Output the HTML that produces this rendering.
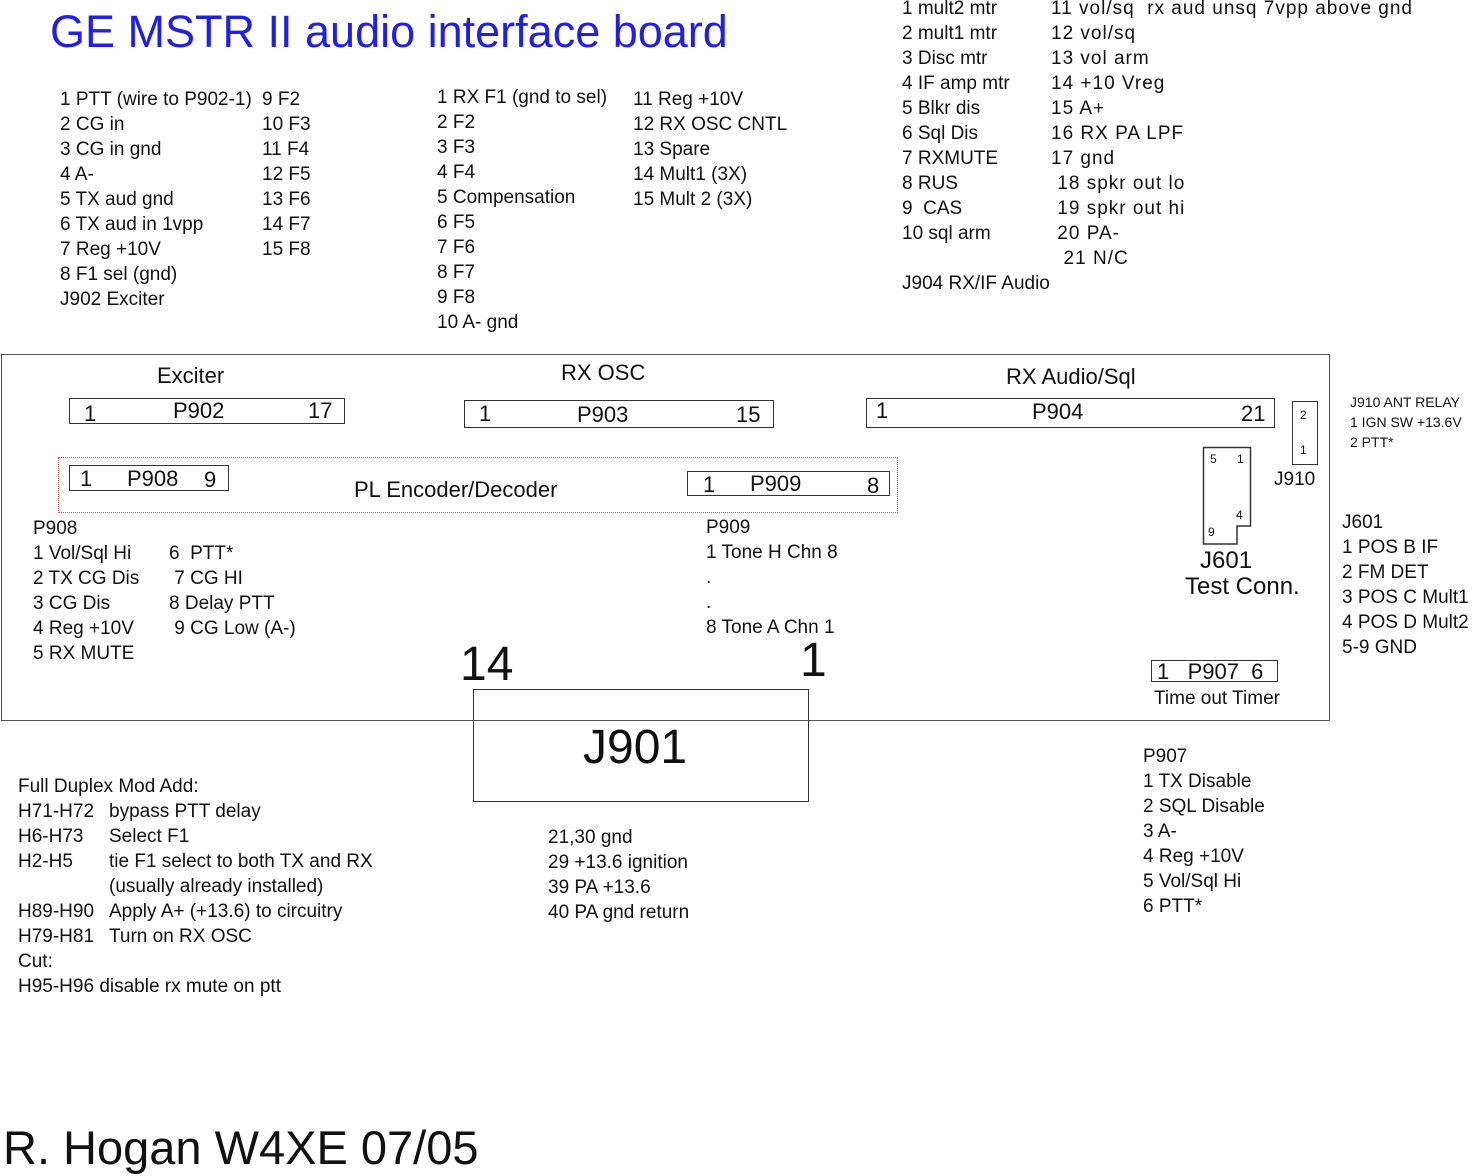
<!DOCTYPE html>
<html><head><meta charset="utf-8"><style>
body{margin:0;background:#fff;}
#c{position:relative;width:1479px;height:1176px;overflow:hidden;background:#fff;font-family:"Liberation Sans",sans-serif;color:#111;}
.t{position:absolute;white-space:pre;font-size:19px;line-height:25px;}
.b{position:absolute;border:1.5px solid #333;box-sizing:border-box;}
.s{font-size:14px;line-height:20px;}
.big{font-size:48px;line-height:50px;}
</style></head><body><div id="c">
<div class="t" style="left:50px;top:4px;font-size:45px;line-height:56px;color:#1f1fe6;">GE MSTR II audio interface board</div>

<div class="t" style="left:60px;top:87px;">1 PTT (wire to P902-1)
2 CG in
3 CG in gnd
4 A-
5 TX aud gnd
6 TX aud in 1vpp
7 Reg +10V
8 F1 sel (gnd)
J902 Exciter</div>
<div class="t" style="left:262px;top:87px;">9 F2
10 F3
11 F4
12 F5
13 F6
14 F7
15 F8</div>

<div class="t" style="left:437px;top:85px;">1 RX F1 (gnd to sel)
2 F2
3 F3
4 F4
5 Compensation
6 F5
7 F6
8 F7
9 F8
10 A- gnd</div>
<div class="t" style="left:633px;top:87px;">11 Reg +10V
12 RX OSC CNTL
13 Spare
14 Mult1 (3X)
15 Mult 2 (3X)</div>

<div class="t" style="left:902px;top:-4px;">1 mult2 mtr
2 mult1 mtr
3 Disc mtr
4 IF amp mtr
5 Blkr dis
6 Sql Dis
7 RXMUTE
8 RUS
9  CAS
10 sql arm

J904 RX/IF Audio</div>
<div class="t" style="left:1051px;top:-4px;letter-spacing:1px;">11 vol/sq  rx aud unsq 7vpp above gnd
12 vol/sq
13 vol arm
14 +10 Vreg
15 A+
16 RX PA LPF
17 gnd
 18 spkr out lo
 19 spkr out hi
 20 PA-
  21 N/C</div>

<div class="b" style="left:1px;top:354px;width:1329px;height:367px;border-color:#555;"></div>
<div class="t" style="left:157px;top:363px;font-size:22px;">Exciter</div>
<div class="b" style="left:69px;top:398px;width:276px;height:26px;"></div>
<div class="t" style="left:84px;top:401px;font-size:22px;">1</div>
<div class="t" style="left:173px;top:398px;font-size:22px;">P902</div>
<div class="t" style="left:308px;top:398px;font-size:22px;">17</div>

<div class="t" style="left:561px;top:360px;font-size:22px;">RX OSC</div>
<div class="b" style="left:464px;top:400px;width:310px;height:28px;"></div>
<div class="t" style="left:479px;top:401px;font-size:22px;">1</div>
<div class="t" style="left:577px;top:402px;font-size:22px;">P903</div>
<div class="t" style="left:736px;top:402px;font-size:22px;">15</div>

<div class="t" style="left:1006px;top:364px;font-size:22px;">RX Audio/Sql</div>
<div class="b" style="left:866px;top:398px;width:409px;height:30px;"></div>
<div class="t" style="left:876px;top:398px;font-size:22px;">1</div>
<div class="t" style="left:1032px;top:399px;font-size:22px;">P904</div>
<div class="t" style="left:1241px;top:401px;font-size:22px;">21</div>

<div class="b" style="left:1292px;top:401px;width:26px;height:64px;"></div>
<div class="t s" style="left:1300px;top:405px;font-size:12px;">2</div>
<div class="t s" style="left:1300px;top:440px;font-size:12px;">1</div>
<div class="t" style="left:1274px;top:467px;">J910</div>

<div style="position:absolute;left:58px;top:457px;width:840px;height:56px;border:1px dotted #e05050;box-sizing:border-box;"></div>
<div class="b" style="left:69px;top:465px;width:160px;height:26px;"></div>
<div class="t" style="left:80px;top:466px;font-size:22px;">1</div>
<div class="t" style="left:127px;top:466px;font-size:22px;">P908</div>
<div class="t" style="left:204px;top:467px;font-size:22px;">9</div>
<div class="t" style="left:354px;top:477px;font-size:22px;">PL Encoder/Decoder</div>
<div class="b" style="left:687px;top:471px;width:203px;height:25px;"></div>
<div class="t" style="left:703px;top:472px;font-size:22px;">1</div>
<div class="t" style="left:750px;top:471px;font-size:22px;">P909</div>
<div class="t" style="left:867px;top:473px;font-size:22px;">8</div>

<div class="t" style="left:33px;top:516px;">P908
1 Vol/Sql Hi
2 TX CG Dis
3 CG Dis
4 Reg +10V
5 RX MUTE</div>
<div class="t" style="left:169px;top:541px;">6  PTT*
 7 CG HI
8 Delay PTT
 9 CG Low (A-)</div>
<div class="t" style="left:706px;top:515px;">P909
1 Tone H Chn 8
.
.
8 Tone A Chn 1</div>

<svg style="position:absolute;left:0;top:0" width="1479" height="1176">
<polygon points="1203.5,447.5 1250.5,447.5 1250.5,526 1237,526 1237,544 1203.5,544" fill="none" stroke="#333" stroke-width="1.5"/>
</svg>
<div class="t" style="left:1210px;top:451px;font-size:12px;line-height:16px;">5</div>
<div class="t" style="left:1237px;top:451px;font-size:12px;line-height:16px;">1</div>
<div class="t" style="left:1236px;top:507px;font-size:12px;line-height:16px;">4</div>
<div class="t" style="left:1208px;top:524px;font-size:12px;line-height:16px;">9</div>
<div class="t" style="left:1200px;top:547px;font-size:24px;line-height:28px;">J601</div>
<div class="t" style="left:1185px;top:573px;font-size:24px;line-height:28px;">Test Conn.</div>

<div class="t big" style="left:460px;top:640px;">14</div>
<div class="t big" style="left:800px;top:636px;">1</div>
<div class="b" style="left:473px;top:689px;width:336px;height:113px;"></div>
<div class="t big" style="left:583px;top:723px;">J901</div>

<div class="b" style="left:1151px;top:660px;width:127px;height:22px;"></div>
<div class="t" style="left:1157px;top:659px;font-size:22px;">1   P907  6</div>
<div class="t" style="left:1154px;top:686px;">Time out Timer</div>

<div class="t s" style="left:1350px;top:392px;">J910 ANT RELAY
1 IGN SW +13.6V
2 PTT*</div>
<div class="t" style="left:1342px;top:510px;">J601
1 POS B IF
2 FM DET
3 POS C Mult1
4 POS D Mult2
5-9 GND</div>

<div class="t" style="left:18px;top:774px;">Full Duplex Mod Add:
H71-H72
H6-H73
H2-H5

H89-H90
H79-H81
Cut:
H95-H96 disable rx mute on ptt</div>
<div class="t" style="left:109px;top:799px;">bypass PTT delay
Select F1
tie F1 select to both TX and RX
(usually already installed)
Apply A+ (+13.6) to circuitry
Turn on RX OSC</div>

<div class="t" style="left:548px;top:825px;">21,30 gnd
29 +13.6 ignition
39 PA +13.6
40 PA gnd return</div>

<div class="t" style="left:1143px;top:744px;">P907
1 TX Disable
2 SQL Disable
3 A-
4 Reg +10V
5 Vol/Sql Hi
6 PTT*</div>

<div class="t" style="left:3px;top:1120px;font-size:47px;line-height:56px;">R. Hogan W4XE 07/05</div>
</div></body></html>
